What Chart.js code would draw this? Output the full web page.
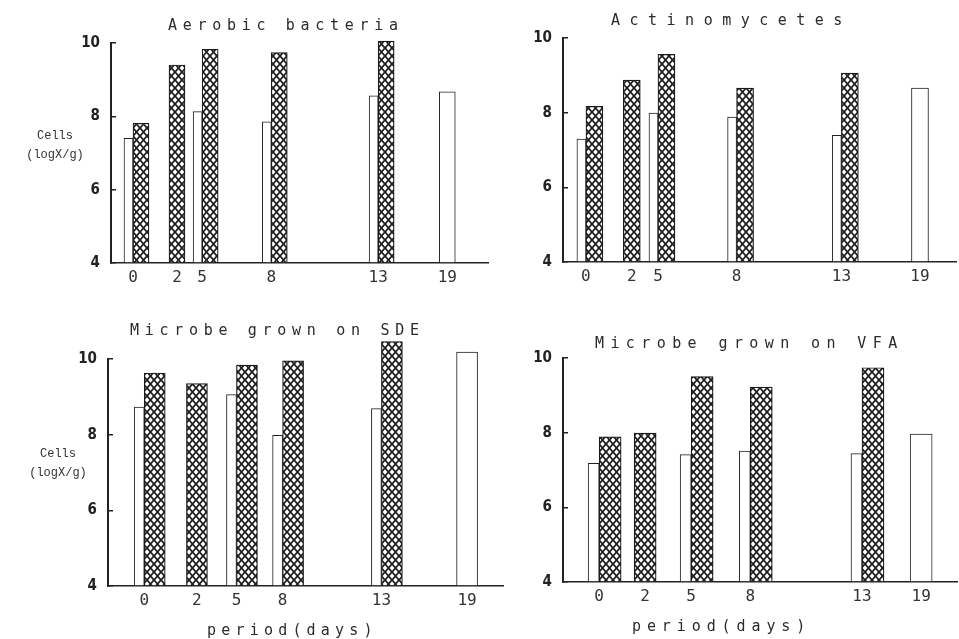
<!DOCTYPE html>
<html>
<head>
<meta charset="utf-8">
<title>Cell counts by period</title>
<script src="https://cdn.jsdelivr.net/npm/chart.js@4"></script>
<style>
  body { margin: 0; background: #fff; }
  #sheet { position: relative; width: 959px; height: 639px; overflow: hidden; }
  canvas { position: absolute; }
  .title, .xlab {
    position: absolute;
    font-family: 'DejaVu Sans Mono', monospace;
    font-size: 15px;
    line-height: 16px;
    color: #2b2b2b;
    white-space: nowrap;
  }
  .ylab {
    position: absolute;
    width: 70px;
    font-family: 'Liberation Mono', monospace;
    font-size: 12px;
    line-height: 19px;
    color: #333;
    text-align: center;
  }
</style>
</head>
<body>
<div id="sheet">
  <canvas id="aerobic" width="490" height="300" style="left:0;top:0"></canvas>
  <canvas id="actino" width="479" height="300" style="left:480px;top:0"></canvas>
  <canvas id="sde" width="505" height="339" style="left:0;top:300px"></canvas>
  <canvas id="vfa" width="479" height="339" style="left:480px;top:300px"></canvas>

  <div class="title" style="left:168px;top:17px;letter-spacing:5.7px">Aerobic bacteria</div>
  <div class="title" style="left:611px;top:12px;letter-spacing:9.5px">Actinomycetes</div>
  <div class="title" style="left:130px;top:322px;letter-spacing:5.7px">Microbe grown on SDE</div>
  <div class="title" style="left:595px;top:335px;letter-spacing:6.4px">Microbe grown on VFA</div>

  <div class="ylab" style="left:20px;top:127px">Cells<br>(logX/g)</div>
  <div class="ylab" style="left:23px;top:445px">Cells<br>(logX/g)</div>

  <div class="xlab" style="left:207px;top:622px;letter-spacing:5.2px">period(days)</div>
  <div class="xlab" style="left:632px;top:618px;letter-spacing:5.9px">period(days)</div>
</div>

<script>
  // sampling days shown under every panel
  const days = ['0', '2', '5', '8', '13', '19']

  // log counts, open bars and cross-hatched bars (null = no bar)
  const aerobicOpen = [7.40, null, 8.13, 7.85, 8.56, 8.67]
  const aerobicHatched = [7.81, 9.40, 9.83, 9.74, 10.05, null]

  const actinoOpen = [7.29, null, 7.99, 7.88, 7.39, 8.66]
  const actinoHatched = [8.17, 8.87, 9.56, 8.66, 9.06, null]

  const sdeOpen = [8.73, null, 9.06, 7.98, 8.69, 10.18]
  const sdeHatched = [9.63, 9.35, 9.84, 9.95, 10.46, null]

  const vfaOpen = [7.18, null, 7.41, 7.51, 7.44, 7.96]
  const vfaHatched = [7.89, 7.99, 9.50, 9.22, 9.74, null]

  // value axis runs 4..10, bars rise from the floor
  const Y_MIN = 4
  const Y_MAX = 10

  // each x axis is cut into narrow category slots so the days sit unevenly
  const SLOTS = 60
  const X_AXIS_HEIGHT = 30

  const panels = [
    { canvas: 'aerobic', open: aerobicOpen, hatched: aerobicHatched,
      slots: [3, 10, 14, 25, 42, 53],
      area: { left: 111, top: 43, right: 490, bottom: 263 },
      openWidth: 9, hatchWidth: 16 },
    { canvas: 'actino', open: actinoOpen, hatched: actinoHatched,
      slots: [3, 10, 14, 26, 42, 54],
      area: { left: 83, top: 38, right: 476, bottom: 262 },
      openWidth: 9, hatchWidth: 17 },
    { canvas: 'sde', open: sdeOpen, hatched: sdeHatched,
      slots: [5, 13, 19, 26, 41, 54],
      area: { left: 108, top: 59, right: 505, bottom: 286 },
      openWidth: 10, hatchWidth: 21 },
    { canvas: 'vfa', open: vfaOpen, hatched: vfaHatched,
      slots: [5, 12, 19, 28, 45, 54],
      area: { left: 83, top: 58, right: 479, bottom: 282 },
      openWidth: 11, hatchWidth: 22 }
  ]

  // diamond lattice fill
  const crossHatch = () => {
    const tile = document.createElement('canvas')
    tile.width = 7
    tile.height = 8
    const g = tile.getContext('2d')
    g.fillStyle = '#fff'
    g.fillRect(0, 0, 7, 8)
    g.strokeStyle = '#1e1e1e'
    g.lineWidth = 1.8
    g.beginPath()
    g.moveTo(0, 0)
    g.lineTo(7, 8)
    g.moveTo(7, 0)
    g.lineTo(0, 8)
    g.stroke()
    return g.createPattern(tile, 'repeat')
  }
  const hatchFill = crossHatch()

  const spread = (values, slots, keep) => {
    const out = new Array(SLOTS).fill(null)
    slots.forEach((s, i) => {
      if (keep(i)) out[s] = values[i]
    })
    return out
  }

  const drawPanel = p => {
    const canvas = document.getElementById(p.canvas)
    const labels = new Array(SLOTS).fill('')
    p.slots.forEach((s, i) => { labels[s] = days[i] })

    const hasHatch = i => p.hatched[i] !== null

    new Chart(canvas, {
      type: 'bar',
      data: {
        labels: labels,
        datasets: [
          {
            // open bar sitting left of a hatched one
            data: spread(p.open, p.slots, hasHatch),
            backgroundColor: '#fff',
            borderColor: '#222',
            borderWidth: 1,
            barThickness: p.openWidth
          },
          {
            data: spread(p.hatched, p.slots, () => true),
            backgroundColor: hatchFill,
            borderColor: '#1a1a1a',
            borderWidth: 1.2,
            barThickness: p.hatchWidth
          },
          {
            // open bar standing alone
            data: spread(p.open, p.slots, i => !hasHatch(i)),
            backgroundColor: '#fff',
            borderColor: '#222',
            borderWidth: 1,
            barThickness: p.hatchWidth
          }
        ]
      },
      options: {
        responsive: false,
        animation: false,
        layout: {
          padding: {
            top: p.area.top,
            left: 0,
            right: canvas.width - p.area.right,
            bottom: canvas.height - p.area.bottom - X_AXIS_HEIGHT
          }
        },
        datasets: {
          bar: { skipNull: true, clip: false, base: Y_MIN }
        },
        scales: {
          x: {
            type: 'category',
            afterFit: s => { s.height = X_AXIS_HEIGHT },
            grid: { display: false, drawTicks: false },
            border: { display: true, color: '#222', width: 1.5 },
            ticks: {
              autoSkip: false,
              maxRotation: 0,
              padding: 5,
              color: '#333',
              font: { family: "'DejaVu Sans Mono', monospace", size: 16 }
            }
          },
          y: {
            min: Y_MIN,
            max: Y_MAX,
            afterFit: s => { s.width = p.area.left },
            grid: {
              drawOnChartArea: false,
              drawTicks: true,
              tickLength: -5,
              color: '#222',
              lineWidth: 1.5
            },
            border: { display: true, color: '#222', width: 2 },
            ticks: {
              stepSize: 2,
              padding: 16,
              color: '#222',
              font: {
                family: "'Liberation Sans Narrow', 'DejaVu Sans Condensed', sans-serif",
                size: 15,
                weight: 'bold'
              }
            }
          }
        },
        plugins: {
          legend: { display: false },
          tooltip: { enabled: false }
        }
      }
    })
  }

  panels.forEach(drawPanel)
</script>
</body>
</html>
